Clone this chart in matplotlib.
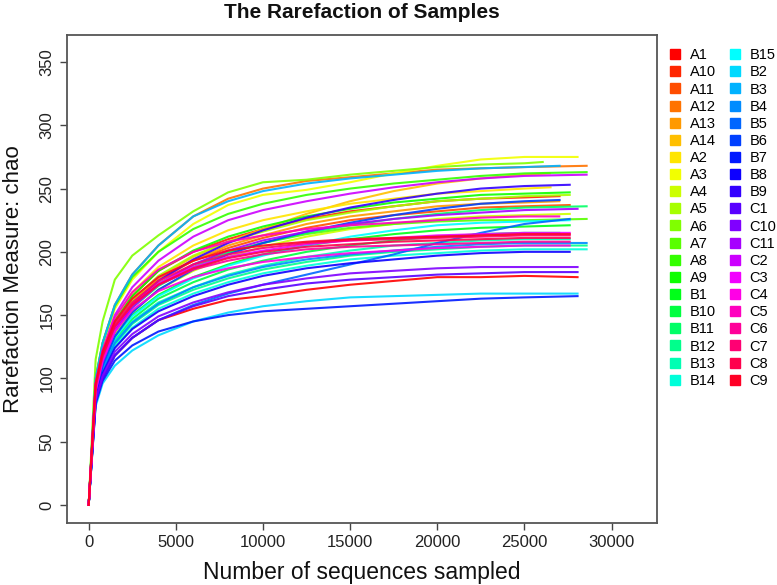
"""Rarefaction curves (chao) for 40 samples, R-style base graphics look."""

import colorsys

import matplotlib.pyplot as plt
from matplotlib.lines import Line2D

plt.switch_backend("Agg")
plt.rcParams["font.family"] = ["Liberation Sans", "DejaVu Sans"]

# sequencing depth grid shared by every curve; each sample adds its own last depth
DEPTHS = [0, 400, 800, 1500, 2500, 4000, 6000, 8000, 10000, 12500,
          15000, 17500, 20000, 22500, 25000]

NAMES_A = ["A1", "A10", "A11", "A12", "A13", "A14", "A2", "A3", "A4",
           "A5", "A6", "A7", "A8", "A9"]
NAMES_B = ["B1", "B10", "B11", "B12", "B13", "B14", "B15", "B2", "B3",
           "B4", "B5", "B6", "B7", "B8", "B9"]
NAMES_C = ["C1", "C10", "C11", "C2", "C3", "C4", "C5", "C6", "C7", "C8", "C9"]

LAST_A = [28050, 27020, 27600, 28570, 27000, 26450, 26500, 28050, 27600,
          27600, 26050, 28570, 28570, 27600]
LAST_B = [27600, 27000, 28570, 28570, 27600, 28570, 27600, 28050, 27020,
          28570, 27600, 27020, 28050, 27600, 27600]
LAST_C = [28050, 28050, 28050, 28570, 27600, 27600, 27000, 27600, 27600,
          27600, 27600]

# chao values at DEPTHS, then at the sample's last depth
CHAO_A = [
    [0, 80, 100, 118, 132, 146, 155, 162, 165, 170, 174, 177, 180, 180, 181, 180],
    [0, 95, 120, 145, 165, 185, 200, 210, 218, 226, 232, 236, 240, 242, 243, 244],
    [0, 92, 116, 140, 160, 178, 193, 203, 211, 219, 225, 229, 232, 235, 236, 237],
    [0, 100, 128, 158, 182, 205, 228, 242, 250, 256, 259, 262, 265, 266, 267, 268],
    [0, 90, 115, 140, 160, 178, 193, 205, 213, 222, 228, 232, 236, 238, 239, 240],
    [0, 92, 118, 143, 162, 180, 196, 208, 218, 230, 240, 248, 254, 258, 261, 262],
    [0, 95, 120, 146, 168, 188, 205, 217, 225, 232, 238, 242, 246, 248, 250, 251],
    [0, 98, 125, 155, 178, 200, 222, 237, 245, 249, 255, 262, 268, 273, 275, 275],
    [0, 88, 112, 135, 153, 170, 185, 196, 204, 212, 218, 222, 226, 228, 229, 230],
    [0, 93, 118, 142, 162, 181, 197, 208, 216, 225, 231, 236, 240, 242, 244, 245],
    [0, 115, 145, 178, 197, 213, 232, 247, 255, 257, 261, 264, 267, 269, 270, 271],
    [0, 90, 114, 138, 157, 175, 190, 200, 207, 214, 219, 222, 224, 225, 225, 226],
    [0, 100, 128, 157, 180, 200, 218, 230, 238, 245, 250, 254, 257, 260, 262, 263],
    [0, 95, 120, 145, 165, 185, 201, 212, 220, 228, 234, 239, 242, 245, 246, 247],
]
CHAO_B = [
    [0, 88, 110, 133, 150, 166, 180, 190, 198, 205, 210, 214, 217, 219, 220, 221],
    [0, 86, 108, 130, 147, 163, 176, 186, 193, 200, 205, 209, 212, 214, 215, 215],
    [0, 90, 113, 137, 156, 173, 188, 199, 207, 215, 221, 226, 230, 233, 235, 236],
    [0, 84, 105, 127, 143, 158, 170, 179, 186, 192, 197, 200, 202, 204, 205, 205],
    [0, 86, 107, 129, 145, 160, 172, 182, 189, 196, 201, 205, 207, 209, 210, 210],
    [0, 84, 104, 125, 140, 155, 167, 176, 183, 189, 194, 197, 199, 201, 202, 202],
    [0, 88, 110, 132, 149, 165, 179, 189, 197, 205, 212, 217, 221, 223, 224, 225],
    [0, 78, 96, 110, 122, 134, 145, 152, 157, 161, 164, 165, 166, 167, 167, 167],
    [0, 100, 128, 158, 182, 205, 228, 240, 248, 254, 258, 261, 264, 266, 267, 268],
    [0, 86, 107, 128, 144, 159, 172, 181, 188, 194, 198, 201, 204, 206, 207, 207],
    [0, 82, 100, 118, 132, 146, 158, 167, 174, 182, 190, 198, 207, 215, 222, 226],
    [0, 88, 110, 133, 152, 170, 186, 198, 207, 216, 223, 229, 234, 238, 240, 241],
    [0, 80, 98, 114, 126, 137, 145, 150, 153, 155, 157, 159, 161, 163, 164, 165],
    [0, 84, 104, 124, 139, 153, 165, 174, 181, 187, 191, 194, 197, 199, 200, 200],
    [0, 90, 114, 138, 158, 177, 194, 207, 217, 227, 235, 241, 246, 250, 252, 253],
]
CHAO_C = [
    [0, 82, 100, 118, 132, 146, 157, 165, 170, 175, 178, 180, 182, 183, 184, 184],
    [0, 83, 102, 121, 135, 149, 160, 168, 174, 179, 183, 185, 187, 188, 188, 188],
    [0, 90, 113, 137, 156, 174, 190, 201, 209, 216, 222, 226, 229, 231, 233, 234],
    [0, 96, 122, 150, 172, 193, 212, 225, 233, 240, 246, 251, 255, 258, 260, 261],
    [0, 92, 116, 140, 158, 175, 188, 196, 201, 206, 209, 211, 213, 214, 215, 215],
    [0, 90, 114, 137, 154, 169, 180, 187, 192, 196, 199, 201, 203, 204, 205, 205],
    [0, 96, 122, 148, 168, 186, 200, 208, 213, 218, 221, 223, 225, 227, 228, 228],
    [0, 93, 117, 141, 158, 174, 186, 193, 198, 202, 204, 205, 206, 207, 208, 208],
    [0, 95, 119, 143, 160, 177, 190, 198, 203, 207, 209, 210, 211, 212, 213, 213],
    [0, 94, 118, 141, 158, 174, 187, 195, 200, 204, 206, 208, 209, 210, 211, 211],
    [0, 96, 121, 145, 163, 180, 193, 201, 205, 208, 210, 211, 212, 213, 214, 214],
]

XTICKS = [0, 5000, 10000, 15000, 20000, 25000, 30000]
YTICKS = [0, 50, 100, 150, 200, 250, 300, 350]

names = NAMES_A + NAMES_B + NAMES_C
lasts = LAST_A + LAST_B + LAST_C
chao = CHAO_A + CHAO_B + CHAO_C
n = len(names)
# R's rainbow(n)
colors = [colorsys.hsv_to_rgb(i / n, 1.0, 1.0) for i in range(n)]

fig = plt.figure(figsize=(7.77, 5.85), dpi=100)
ax = fig.add_axes([0.086, 0.106, 0.7596, 0.834])

for name, last, vals, col in zip(names, lasts, chao, colors):
    ax.plot(DEPTHS + [last], vals, color=col, linewidth=1.5, alpha=0.9,
            label=name)

ax.set_xlim(-1254, 32610)
ax.set_ylim(-14.3, 371.3)
ax.set_xticks(XTICKS, [str(t) for t in XTICKS], fontsize=12)
ax.set_yticks(YTICKS, [str(t) for t in YTICKS], fontsize=12,
              rotation=90, va="center")
ax.tick_params(direction="out", length=5, width=1, color="#444444",
               labelcolor="#222222", pad=4)
for sp in ax.spines.values():
    sp.set_color("#555555")
    sp.set_linewidth(1.3)

fig.text(0.466, 0.978, "The Rarefaction of Samples", ha="center", va="center",
         fontsize=15, fontweight="bold", color="#111111")
fig.text(0.466, 0.022, "Number of sequences sampled", ha="center", va="center",
         fontsize=16.5, color="#111111")
fig.text(0.017, 0.523, "Rarefaction Measure: chao", ha="center", va="center",
         rotation=90, fontsize=16, color="#111111")

handles = [Line2D([], [], linestyle="none", marker="s", markersize=7,
                  markerfacecolor=c, markeredgecolor=c) for c in colors]
fig.legend(handles, names, ncol=2, loc="upper left",
           bbox_to_anchor=(0.852, 0.930), frameon=False, fontsize=10.5,
           handlelength=0.8, handletextpad=0.6, columnspacing=0.9,
           labelspacing=0.215, borderpad=0.0)

fig.savefig("out.png", dpi=100)
